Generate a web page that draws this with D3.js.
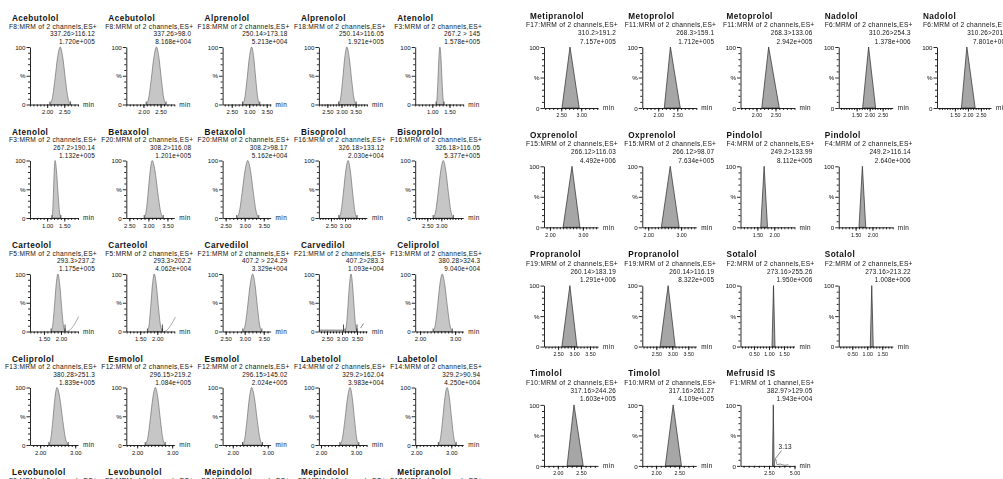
<!DOCTYPE html>
<html><head><meta charset="utf-8">
<script src="https://cdn.jsdelivr.net/npm/d3@7"></script>
<style>
body{margin:0;background:#fff}
svg{display:block;font-family:"Liberation Sans",Arial,sans-serif}
.title{font-weight:bold;font-size:8.2px;letter-spacing:0.45px;fill:#111}
.sub{font-size:6.6px;letter-spacing:0.3px;fill:#111}
.val{font-size:6.4px;letter-spacing:0.2px;fill:#111}
.ax text{font-size:6.2px;fill:#111;font-family:"Liberation Sans",Arial,sans-serif}
.xt text{font-size:5.9px}
.right .xt text{font-size:5.3px}
.ax path,.ax line{stroke:#111;stroke-width:0.9}
.unit{font-size:6.4px;letter-spacing:0.4px;fill:#111}
</style>
</head><body>
<svg id="c" width="1003" height="479"></svg>
<script>
// ---------------- LEFT GRID DATA (5 per row) ----------------
const leftNames = ["Acebutolol","Acebutolol","Alprenolol","Alprenolol","Atenolol",
 "Atenolol","Betaxolol","Betaxolol","Bisoprolol","Bisoprolol",
 "Carteolol","Carteolol","Carvedilol","Carvedilol","Celiprolol",
 "Celiprolol","Esmolol","Esmolol","Labetolol","Labetolol",
 "Levobunolol","Levobunolol","Mepindolol","Mepindolol","Metipranolol"];
const leftFunctions = ["F8","F8","F18","F18","F3","F3","F20","F20","F16","F16",
 "F5","F5","F21","F21","F13","F13","F12","F12","F14","F14","F9","F9","F7","F7","F17"];
const leftTransitions = ["337.26>116.12","337.26>98.0","250.14>173.18","250.14>116.05","267.2 > 145",
 "267.2>190.14","308.2>116.08","308.2>98.17","326.18>133.12","326.18>116.05",
 "293.3>237.2","293.3>202.2","407.2 > 224.29","407.2>283.3","380.28>324.3",
 "380.28>251.3","296.15>219.2","296.15>145.02","329.2>162.04","329.2>90.94",
 "","","","",""];
const leftIntensities = ["1.720e+005","8.168e+004","5.213e+004","1.921e+005","1.578e+005",
 "1.132e+005","1.201e+005","5.162e+004","2.030e+004","5.377e+005",
 "1.175e+005","4.062e+004","3.329e+004","1.093e+004","9.040e+004",
 "1.839e+005","1.084e+005","2.024e+005","3.983e+004","4.250e+004",
 "","","","",""];
const leftDomains = [[1.5,2.9],[1.5,2.9],[2.24,3.61],[2.2,3.9],[0.5,1.9],
 [0.5,1.9],[2.42,3.68],[2.42,3.68],[2.07,3.78],[2.07,3.78],
 [1.09,2.5],[1.09,2.5],[2.42,3.68],[2.23,3.83],[1.86,3.23],
 [1.71,3.08],[1.69,3.06],[1.71,3.08],[1.94,3.31],[1.97,3.34],
 null,null,null,null,null];
const leftTicks = [[2,2.5],[2,2.5],[2.5,3,3.5],[2.5,3,3.5],[1,1.5],
 [1,1.5],[2.5,3,3.5],[2.5,3,3.5],[2.5,3],[2.5,3],
 [1.5,2],[1.5,2],[2.5,3,3.5],[2.5,3,3.5],[2,3],
 [2,3],[2,3],[2,3],[2,3],[2,3],
 [],[],[],[],[]];
// peak start, apex, end (min)
const leftPeaks = [[2.08,2.38,2.68],[2.08,2.38,2.66],[2.81,3.07,3.30],[2.9,3.19,3.52],[1.11,1.22,1.34],
 [1.14,1.23,1.40],[2.89,3.10,3.39],[2.79,3.08,3.37],[2.78,3.11,3.43],[2.71,3.07,3.43],
 [1.71,1.91,2.12],[1.71,1.91,2.15],[2.95,3.21,3.45],[3.10,3.30,3.50],[2.37,2.63,2.92],
 [2.25,2.48,2.80],[2.23,2.52,2.80],[2.28,2.54,2.85],[2.54,2.83,3.08],[2.63,2.88,3.14],
 null,null,null,null,null];
// relative height profile of the smooth (left) peaks, leading edge -> apex
const peakProfileFrac = [0, 0.25, 0.5, 0.75, 1];
const peakProfileHeight = [0, 12, 45, 82, 100];
// secondary traces ([min, %])
const carteolol1Trace = [[2.14,0],[2.22,1],[2.32,6],[2.42,15],[2.52,26]];
const carteolol2Trace = [[2.17,0],[2.25,1],[2.34,6],[2.44,15],[2.53,25]];
const carvedilolBaseline = [[2.23,2],[3.08,2]];
const carvedilolBump = [[3.62,6],[3.72,14]];

// ---------------- RIGHT GRID DATA (rows of 5,4,4,3) ----------------
const rightRowCounts = [5,4,4,3];
const rightNames = ["Metipranolol","Metoprolol","Metoprolol","Nadolol","Nadolol",
 "Oxprenolol","Oxprenolol","Pindolol","Pindolol",
 "Propranolol","Propranolol","Sotalol","Sotalol",
 "Timolol","Timolol","Mefrusid IS"];
const rightFunctions = ["F17","F11","F11","F6","F6","F15","F15","F4","F4","F19","F19","F2","F2","F10","F10","F1"];
const rightChannels = ["MRM of 2 channels,ES+","MRM of 2 channels,ES+","MRM of 2 channels,ES+","MRM of 2 channels,ES+","MRM of 2 channels,ES+",
 "MRM of 2 channels,ES+","MRM of 2 channels,ES+","MRM of 2 channels,ES+","MRM of 2 channels,ES+",
 "MRM of 2 channels,ES+","MRM of 2 channels,ES+","MRM of 2 channels,ES+","MRM of 2 channels,ES+",
 "MRM of 2 channels,ES+","MRM of 2 channels,ES+","MRM of 1 channel,ES+"];
const rightTransitions = ["310.2>191.2","268.3>159.1","268.3>133.06","310.26>254.3","310.26>201.3",
 "266.12>116.03","266.12>98.07","249.2>133.99","249.2>116.14",
 "260.14>183.19","260.14>116.19","273.16>255.26","273.16>213.22",
 "317.16>244.26","317.16>261.27","382.97>129.05"];
const rightIntensities = ["7.157e+005","1.712e+005","2.942e+005","1.378e+006","7.801e+005",
 "4.492e+006","7.634e+005","8.112e+005","2.640e+006",
 "1.291e+006","8.322e+005","1.950e+006","1.008e+006",
 "1.603e+005","4.109e+005","1.943e+004"];
const rightDomains = [[2.07,3.42],[1.58,3.0],[1.58,3.0],[0.81,2.89],[0.81,2.89],
 [1.82,3.46],[1.82,3.46],[1.0,2.6],[1.0,2.6],
 [2.06,3.75],[2.06,3.75],[0.05,1.85],[0.05,1.85],
 [1.7,2.87],[1.7,2.87],[-0.3,5.0]];
const rightTicks = [[2.5,3],[2,2.5],[2,2.5],[1.5,2,2.5],[1.5,2,2.5],
 [2,3],[2,3],[1.5,2],[1.5,2],
 [2.5,3,3.5],[2.5,3,3.5],[0.5,1,1.5],[0.5,1,1.5],
 [2,2.5],[2,2.5],[2.5,5]];
const rightPeaks = [[2.52,2.72,2.95],[2.16,2.32,2.58],[2.14,2.32,2.6],[1.73,1.96,2.23],[1.75,1.96,2.28],
 [2.40,2.67,2.91],[2.40,2.67,2.94],[1.6,1.7,1.8],[1.6,1.7,1.8],
 [2.62,2.87,3.09],[2.62,2.87,3.09],[1.10,1.15,1.20],[1.10,1.15,1.20],
 [2.2,2.35,2.55],[2.2,2.37,2.55],[2.84,2.92,3.0]];
const mefrusidLabel = "3.13";
const mefrusidMinor = [[3.0,0],[3.13,12],[3.3,2],[3.6,3],[4.0,1],[4.4,2]];

// ---------------- LAYOUT ----------------
const svg = d3.select("#c");
const defs = svg.append("defs");
defs.append("filter").attr("id","soft").append("feGaussianBlur").attr("stdDeviation",0.45);

const LEFT = {ox:0, dx:96.3, oy:0, dy:113.5, titleX:12, titleY:21, textR:96, subY:28.5, v1Y:36, v2Y:44,
  ax0:30, ax1:78, yTop:47, yBot:104.5, fill:"#c6c6c6", stroke:"#707070", smooth:true, markH:3};
const RIGHT = {ox:520, dx:98.25, oy:0, dy:119.3, titleX:10, titleY:18.5, textR:97, subY:27, v1Y:35, v2Y:43.5,
  ax0:24, ax1:78, yTop:47, yBot:108, fill:"#a6a6a6", stroke:"#2a2a2a", smooth:false, markH:0};

function drawPanel(g, L, d){
  g.append("text").attr("class","title").attr("x",L.titleX).attr("y",L.titleY).text(d.name);
  g.append("text").attr("class","sub").attr("x",L.textR+1).attr("y",L.subY).attr("text-anchor","end").text(d.fn+":"+d.chan);
  if(!d.domain) return;
  g.append("text").attr("class","val").attr("x",L.textR-1).attr("y",L.v1Y).attr("text-anchor","end").text(d.trans);
  g.append("text").attr("class","val").attr("x",L.textR-1).attr("y",L.v2Y).attr("text-anchor","end").text(d.inten);

  const x = d3.scaleLinear().domain(d.domain).range([L.ax0,L.ax1]);
  const y = d3.scaleLinear().domain([0,100]).range([L.yBot,L.yTop]);

  const [s,a,e] = d.peak;
  let pts;
  if(L.smooth){
    pts = peakProfileFrac.map((f,i)=>[s+f*(a-s), peakProfileHeight[i]])
      .concat(peakProfileFrac.slice(0,-1).map((f,i)=>[a+(1-f)*(e-a), peakProfileHeight[i]]).reverse());
  } else {
    pts = [[s,0],[a,100],[e,0]];
  }
  const area = d3.area().x(p=>x(p[0])).y0(y(0)).y1(p=>y(p[1]))
    .curve(L.smooth ? d3.curveMonotoneX : d3.curveLinear);
  g.append("path").attr("d",area(pts)).attr("fill",L.fill).attr("stroke",L.stroke).attr("stroke-width",0.7);
  if(L.markH){
    [s,e].forEach(m=>g.append("line").attr("x1",x(m)).attr("x2",x(m)).attr("y1",y(0)).attr("y2",y(0)-L.markH)
      .attr("stroke","#333").attr("stroke-width",0.8));
  }

  (d.traces||[]).forEach(t=>{
    g.append("path").attr("d",d3.line().x(p=>x(p[0])).y(p=>y(p[1])).curve(d3.curveMonotoneX)(t.pts))
      .attr("fill","none").attr("stroke",t.color||"#888").attr("stroke-width",t.w||0.7);
  });
  (d.marks||[]).forEach(m=>{
    g.append("line").attr("x1",x(m)).attr("x2",x(m)).attr("y1",y(0)).attr("y2",y(0)-7)
      .attr("stroke","#222").attr("stroke-width",0.8);
  });

  const ya = g.append("g").attr("class","ax").attr("transform",`translate(${L.ax0},0)`)
    .call(d3.axisLeft(y).tickValues([0,50,100]).tickSize(3.5).tickSizeOuter(0).tickPadding(1)
      .tickFormat(v=>v===0?"0":v===100?"100":"%"));
  ya.selectAll("text").attr("dy","0.34em");
  g.append("g").attr("class","ax").attr("transform",`translate(${L.ax0},0)`)
    .call(d3.axisLeft(y).tickValues(d3.range(10,100,10).filter(v=>v!==50)).tickSize(2).tickSizeOuter(0).tickFormat(""))
    .select("path").remove();

  const span = d.domain[1]-d.domain[0];
  const step = span>3 ? 0.5 : 0.1;
  const minor = d3.range(Math.ceil(d.domain[0]/step)*step, d.domain[1]+1e-6, step);
  g.append("g").attr("class","ax").attr("transform",`translate(0,${L.yBot})`)
    .call(d3.axisBottom(x).tickValues(minor).tickSize(2).tickSizeOuter(0).tickFormat(""));
  g.append("g").attr("class","ax xt").attr("transform",`translate(0,${L.yBot})`)
    .call(d3.axisBottom(x).tickValues(d.ticks).tickSize(3.5).tickSizeOuter(0).tickPadding(2)
      .tickFormat(d3.format(".2f")))
    .select("path").remove();
  g.append("text").attr("class","unit").attr("x",L.ax1+5).attr("y",L.yBot+2.3).text("min");

  if(d.label){
    const lx = x(d.label.at), ly = y(d.label.h);
    g.append("line").attr("x1",lx).attr("y1",ly).attr("x2",lx+6).attr("y2",ly-8).attr("stroke","#333").attr("stroke-width",0.6);
    g.append("text").attr("class","val").attr("x",lx+3).attr("y",ly-10).text(d.label.text);
  }
}

const gl = svg.append("g").attr("class","left");
leftNames.forEach((n,i)=>{
  const r = Math.floor(i/5), c = i%5;
  const d = {name:n, fn:leftFunctions[i], chan:"MRM of 2 channels,ES+", trans:leftTransitions[i],
    inten:leftIntensities[i], domain:leftDomains[i], ticks:leftTicks[i], peak:leftPeaks[i], traces:[], marks:[]};
  if(i===10){ d.traces.push({pts:carteolol1Trace}); d.marks.push(leftPeaks[i][2]); }
  if(i===11){ d.traces.push({pts:carteolol2Trace}); d.marks.push(leftPeaks[i][2]); }
  if(i===13){ d.traces.push({pts:carvedilolBaseline,color:"#999",w:1.6}); d.traces.push({pts:carvedilolBump,color:"#555"});
    d.marks.push(leftPeaks[i][0]-0.05, leftPeaks[i][2]); }
  const g = gl.append("g").attr("transform",`translate(${LEFT.ox+c*LEFT.dx},${LEFT.oy+r*LEFT.dy})`);
  drawPanel(g, LEFT, d);
});

const gr = svg.append("g").attr("class","right").attr("filter","url(#soft)");
let idx = 0;
rightRowCounts.forEach((cnt,r)=>{
  for(let c=0;c<cnt;c++,idx++){
    const i = idx;
    const d = {name:rightNames[i], fn:rightFunctions[i], chan:rightChannels[i], trans:rightTransitions[i],
      inten:rightIntensities[i], domain:rightDomains[i], ticks:rightTicks[i], peak:rightPeaks[i], traces:[], marks:[]};
    if(i===15){ d.traces.push({pts:mefrusidMinor,color:"#555"}); d.label={at:3.13,h:12,text:mefrusidLabel}; }
    const g = gr.append("g").attr("transform",`translate(${RIGHT.ox+c*RIGHT.dx},${RIGHT.oy+r*RIGHT.dy})`);
    drawPanel(g, RIGHT, d);
  }
});
</script>
</body></html>
